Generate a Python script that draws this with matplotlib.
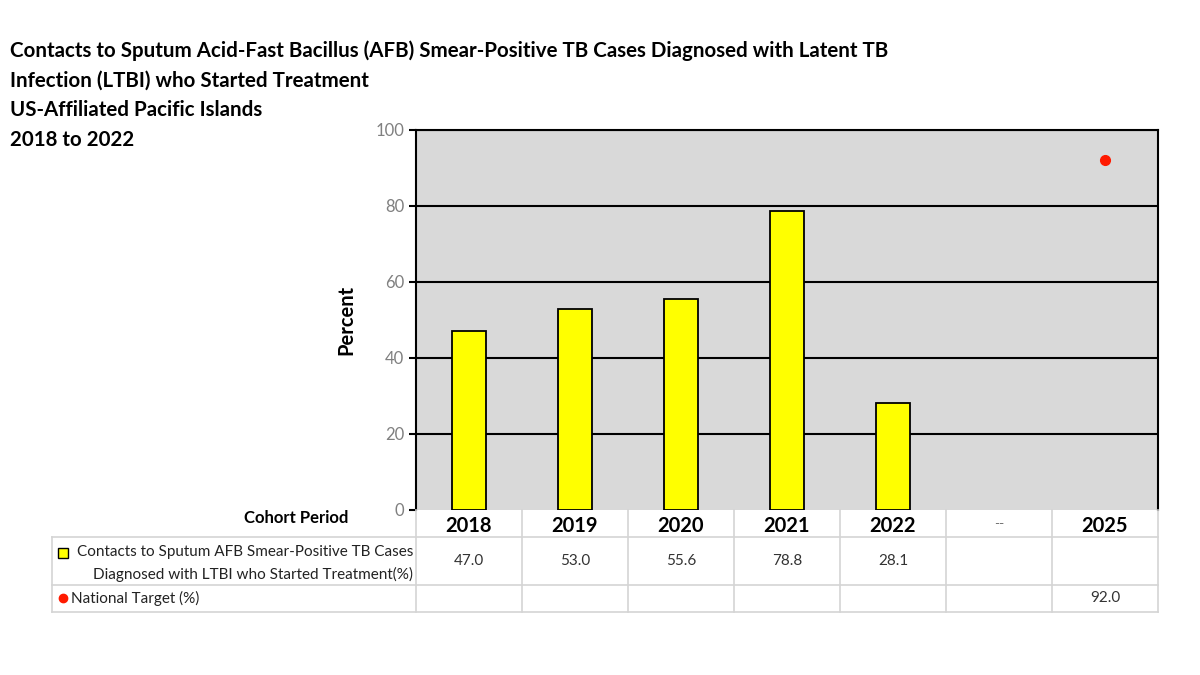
import numpy as np
import matplotlib as mpl
mpl.use('Agg')
import matplotlib.pyplot as plt

plt.rcParams['font.family'] = ['Lato', 'DejaVu Sans']

##### データ
periods = ['2018', '2019', '2020', '2021', '2022', '--', '2025']
pct_values = [47.0, 53.0, 55.6, 78.8, 28.1]
target_value = 92.0
target_index = 6
yticks = [0, 20, 40, 60, 80, 100]

title_lines = ['Contacts to Sputum Acid-Fast Bacillus (AFB) Smear-Positive TB Cases Diagnosed with Latent TB',
               'Infection (LTBI) who Started Treatment',
               'US-Affiliated Pacific Islands',
               '2018 to 2022']
row1_label = ['Contacts to Sputum AFB Smear-Positive TB Cases',
              'Diagnosed with LTBI who Started Treatment(%)']
row2_label = 'National Target (%)'

W, H = 1200, 675
fig = plt.figure(figsize=(12, 6.75), dpi=100)

def fx(px):
    return px / W

def fy(py):
    return 1 - py / H

##### タイトル
for i, line in enumerate(title_lines):
    fig.text(fx(10), fy(51 + i * 29.5), line, fontsize=14.8, fontweight='bold',
             va='center', ha='left', color='black')

##### 棒グラフ
left, right, top, bottom = 416, 1158, 130, 510
ax = fig.add_axes([fx(left), fy(bottom), fx(right - left), (bottom - top) / H])
ax.set_facecolor('#d9d9d9')
x = np.arange(len(pct_values))
ax.bar(x, pct_values, width=0.32, color='#ffff00', edgecolor='black', linewidth=1.3, zorder=3)
ax.plot([target_index], [target_value], 'o', color='#ff1a00', markersize=7, zorder=4)
ax.set_xlim(-0.5, len(periods) - 0.5)
ax.set_ylim(0, 100)
ax.set_yticks(yticks)
ax.tick_params(axis='y', colors='black', labelcolor='#808080', labelsize=12,
               length=5, width=1.5, direction='out')
ax.set_xticks([])
for yv in yticks[1:]:
    ax.axhline(yv, color='black', lw=1.5, zorder=2)
for s in ['left', 'right', 'top']:
    ax.spines[s].set_color('black')
    ax.spines[s].set_linewidth(1.5)
ax.spines['bottom'].set_visible(False)
ax.set_ylabel('Percent', fontsize=14.5, fontweight='bold', labelpad=14)

##### データテーブル
tleft, tbottom = 52, 612
col_w = (right - left) / len(periods)
tab = fig.add_axes([fx(tleft), fy(tbottom), fx(right - tleft), (tbottom - bottom) / H])
tab.set_xlim(-0.5 - (left - tleft) / col_w, len(periods) - 0.5)
tab.set_ylim(tbottom - bottom, 0)
tab.axis('off')
gc = '#d4d4d4'
x0 = -0.5 - (left - tleft) / col_w
for yy in [27, 75, 102]:
    tab.plot([x0, len(periods) - 0.5], [yy, yy], color=gc, lw=1.2, clip_on=False)
tab.plot([x0, x0], [27, 102], color=gc, lw=1.2, clip_on=False)
for k in range(len(periods) + 1):
    tab.plot([k - 0.5, k - 0.5], [0, 102], color=gc, lw=1.2, clip_on=False)

for k, p in enumerate(periods):
    if p == '--':
        tab.text(k, 14, p, ha='center', va='center', fontsize=10, color='#707070')
    else:
        tab.text(k, 16, p, ha='center', va='center', fontsize=14.5, fontweight='bold')
for k, v in enumerate(pct_values):
    tab.text(k, 51, f'{v:.1f}', ha='center', va='center', fontsize=11, color='#333333')
tab.text(target_index, 88, f'{target_value:.1f}', ha='center', va='center', fontsize=11, color='#333333')

tab.text(-0.5 - 68 / col_w, 8, 'Cohort Period', ha='right', va='center', fontsize=12, fontweight='bold')
tab.text(-0.5 - 3 / col_w, 42, row1_label[0], ha='right', va='center', fontsize=11, color='#222222')
tab.text(-0.5 - 3 / col_w, 64, row1_label[1], ha='right', va='center', fontsize=11, color='#222222')
tab.plot([x0 + 11 / col_w], [43], 's', color='#ffff00', markeredgecolor='black',
         markersize=7, clip_on=False)
tab.plot([x0 + 11 / col_w], [88], 'o', color='#ff1a00', markersize=6, clip_on=False)
tab.text(x0 + 19 / col_w, 88, row2_label, ha='left', va='center', fontsize=11, color='#222222')

plt.savefig('out.png', dpi=100)
plt.close()
